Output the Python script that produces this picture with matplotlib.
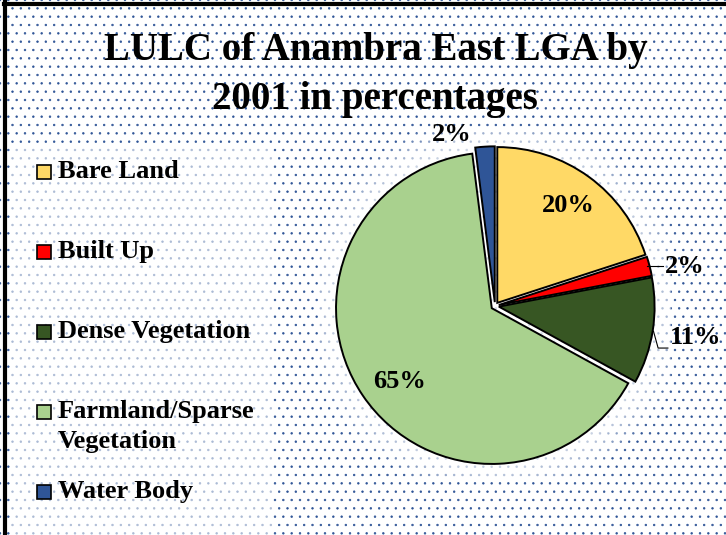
import numpy as np
import matplotlib
matplotlib.use("Agg")
import matplotlib.pyplot as plt
from matplotlib.patches import Rectangle, Circle
from matplotlib.lines import Line2D

categories = ["Bare Land", "Built Up", "Dense Vegetation", "Farmland/Sparse\nVegetation", "Water Body"]
values = [20, 2, 11, 65, 2]
colors = ["#FFD966", "#FF0000", "#375623", "#A9D18E", "#2F5597"]
title = "LULC of Anambra East LGA by\n2001 in percentages"

plt.rcParams['font.family'] = ['Liberation Serif', 'DejaVu Serif']
plt.rcParams['font.weight'] = 'bold'
plt.rcParams['hatch.linewidth'] = 0.5

W, H = 726, 535
fig = plt.figure(figsize=(W / 100, H / 100), dpi=100)

# dotted background
bg = Rectangle((0, 0), 1, 1, transform=fig.transFigure, facecolor="white",
               edgecolor="#2F5597", hatch="..", linewidth=0, zorder=-10)
fig.patches.append(bg)
# legend area is a bit paler
fig.patches.append(Rectangle((10 / W, 0), 262 / W, 1 - 145 / H, transform=fig.transFigure,
                             facecolor="white", edgecolor="none", alpha=0.6, zorder=-9))

# frame (left and top only, the rest is cropped)
fig.lines.append(Line2D([0.007, 0.007], [0, 0.996], transform=fig.transFigure, color="black", lw=3))
fig.lines.append(Line2D([0.005, 1], [0.993, 0.993], transform=fig.transFigure, color="black", lw=3))

fig.text(0.517, 1 - 75 / H, title, ha="center", va="center", fontsize=28,
         fontweight="bold", linespacing=1.45)

# pie
ax = fig.add_axes([319 / W, 53 / H, 352 / W, 352 / H])
lim = 1.13
ax.set_aspect("equal")
ax.axis("off")

# white halo behind the pie
for r in np.linspace(1.22, 1.0, 8):
    ax.add_patch(Circle((0, 0), r, facecolor="white", edgecolor="none", alpha=0.18, zorder=0))

wedges, _ = ax.pie(values, colors=colors, startangle=90, counterclock=False,
                   explode=[0.025] * len(values),
                   wedgeprops=dict(edgecolor="black", linewidth=1.4), frame=False)
for w in wedges:
    w.set_zorder(2)
ax.set_xlim(-lim, lim)
ax.set_ylim(-lim, lim)

mids = [np.deg2rad((w.theta1 + w.theta2) / 2) for w in wedges]
lbl_font = dict(fontsize=19, fontweight="bold", ha="center", va="center", zorder=5)

# inside labels (radius, angle nudge in degrees)
for i, r, da in [(0, 0.80, 0), (3, 0.78, 4)]:
    a = mids[i] + np.deg2rad(da)
    ax.text(r * np.cos(a), r * np.sin(a), f"{values[i]}%", **lbl_font)

# water body label (above, slightly left)
ax.text(-0.28, 1.10, f"{values[4]}%", **lbl_font)

# built up label with leader line
a = mids[1]
y1 = 1.03 * np.sin(a)
ax.plot([1.01 * np.cos(a), 1.08], [y1, y1], color="black", lw=0.8, clip_on=False, zorder=4)
ax.text(1.09, y1, f"{values[1]}%", fontsize=19, fontweight="bold", ha="left", va="center")

# dense vegetation label with leader line
a = mids[2]
x0, y0 = 1.03 * np.cos(a), 1.03 * np.sin(a)
ax.plot([x0, x0 + 0.03, 1.11], [y0, -0.27, -0.27], color="black", lw=0.8, clip_on=False, zorder=4)
ax.text(1.12, -0.20, f"{values[2]}%", fontsize=19, fontweight="bold", ha="left", va="center")

# legend drawn by hand to keep the wide spacing
y = 172
for name, col in zip(categories, colors):
    fig.patches.append(Rectangle((37 / W, 1 - (y + 7) / H), 14 / W, 14 / H, transform=fig.transFigure,
                                 facecolor=col, edgecolor="black", linewidth=1.2))
    fig.text(58 / W, 1 - (y - 12) / H, name, ha="left", va="top", fontsize=19, fontweight="bold",
             linespacing=1.4)
    y += 80

fig.savefig("out.png", dpi=100)
